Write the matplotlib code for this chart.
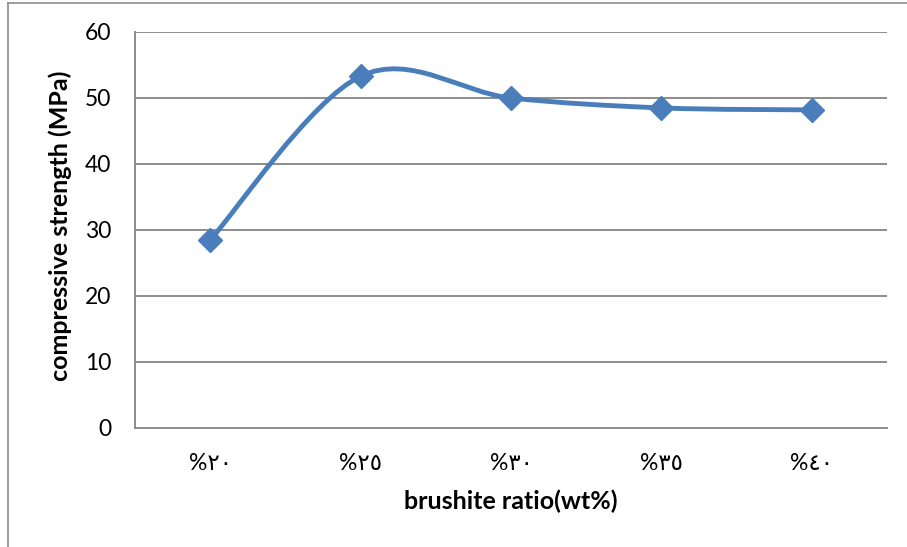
import matplotlib
matplotlib.use('Agg')
import matplotlib.pyplot as plt
from matplotlib.path import Path
from matplotlib.patches import PathPatch
from matplotlib.lines import Line2D
import numpy as np

categories = ['%٢٠', '%٢٥', '%٣٠', '%٣٥', '%٤٠']
strength = [28.5, 53.3, 50.0, 48.5, 48.2]

blue = '#4A7EBB'
grid_gray = '#8C8C8C'
fonts = ['Lato', 'DejaVu Sans']

plt.rcParams['font.family'] = fonts


def smooth_path(xs, ys):
    # bezier segments with catmull-rom style control points
    pts = np.column_stack([xs, ys]).astype(float)
    n = len(pts)
    verts = [pts[0]]
    codes = [Path.MOVETO]
    for i in range(n - 1):
        p0 = pts[max(i - 1, 0)]
        p1 = pts[i]
        p2 = pts[i + 1]
        p3 = pts[min(i + 2, n - 1)]
        c1 = p1 + (p2 - p0) / 6.0
        c2 = p2 - (p3 - p1) / 6.0
        verts += [c1, c2, p2]
        codes += [Path.CURVE4] * 3
    return Path(verts, codes)


fig = plt.figure(figsize=(9.07, 5.47), dpi=100)
ax = fig.add_axes([135 / 907, 1 - 428 / 547, 752 / 907, 396 / 547])

x = np.arange(len(categories))
ax.add_patch(PathPatch(smooth_path(x, strength), fill=False, edgecolor=blue,
                       lw=3.5, capstyle='round', joinstyle='round', zorder=3))
ax.plot(x, strength, linestyle='none', marker='D', markersize=12,
        color=blue, zorder=4)

ax.set_xlim(-0.5, len(categories) - 0.5)
ax.set_ylim(0, 60)
ax.set_yticks(range(0, 61, 10))
ax.set_xticks(x)
ax.set_xticklabels(categories)

ax.yaxis.grid(True, color=grid_gray, lw=1.4)
ax.set_axisbelow(True)
for side in ['top', 'right']:
    ax.spines[side].set_visible(False)
for side in ['left', 'bottom']:
    ax.spines[side].set_color(grid_gray)
    ax.spines[side].set_linewidth(1.4)
ax.tick_params(axis='both', length=0, labelsize=16.5, colors='black')
ax.tick_params(axis='y', pad=17)
ax.tick_params(axis='x', pad=18)

fig.text(60 / 907, 1 - 226 / 547, 'compressive strength (MPa)', rotation=90,
         ha='center', va='center', fontsize=18, fontweight='bold')
fig.text(511 / 907, 1 - 501 / 547, 'brushite ratio(wt%)',
         ha='center', va='center', fontsize=18, fontweight='bold')

# outer chart frame
fig.add_artist(Line2D([8 / 907, 8 / 907], [0, 1 - 3 / 547],
                      transform=fig.transFigure, color=grid_gray, lw=1.2))
fig.add_artist(Line2D([8 / 907, 1], [1 - 3 / 547, 1 - 3 / 547],
                      transform=fig.transFigure, color=grid_gray, lw=1.2))

fig.savefig('out.png', dpi=100)
